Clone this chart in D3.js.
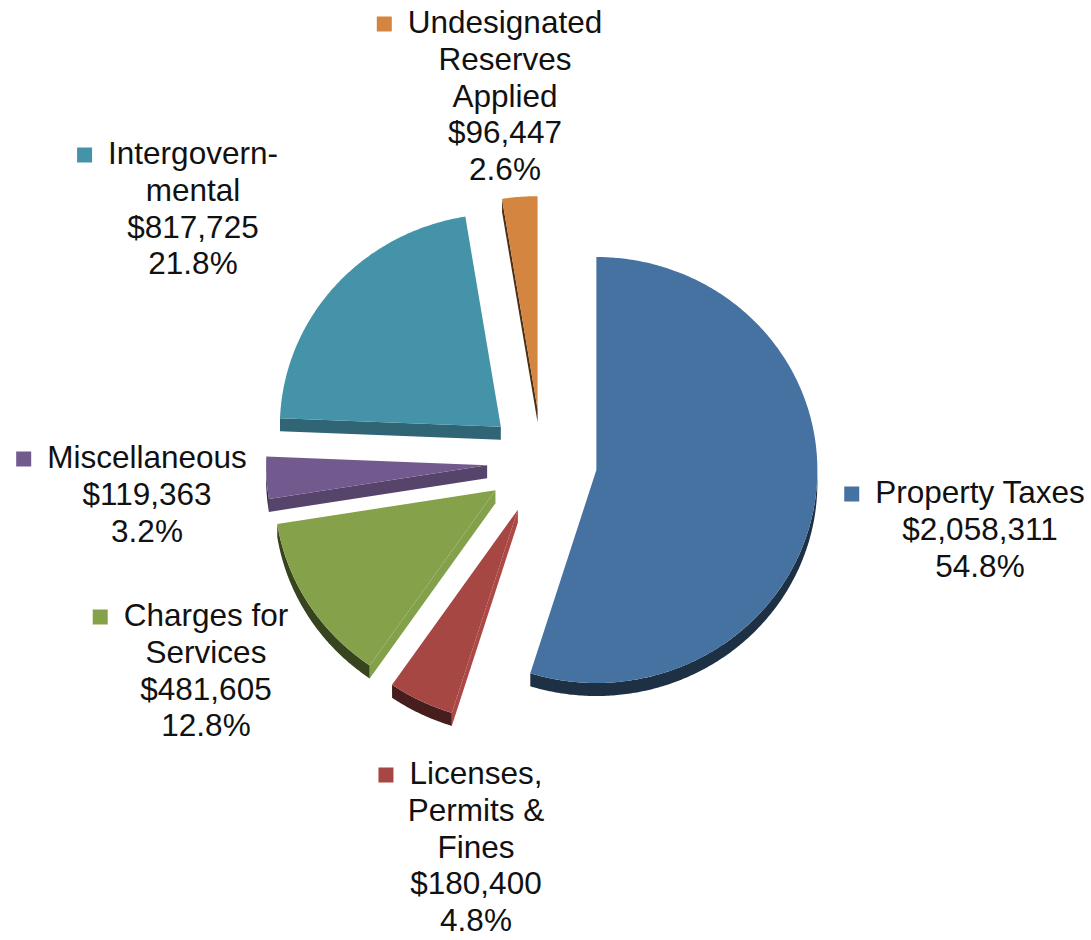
<!DOCTYPE html>
<html>
<head>
<meta charset="utf-8">
<script src="https://cdn.jsdelivr.net/npm/d3@7"></script>
<style>
  html, body { margin: 0; padding: 0; background: #ffffff; }
  svg { display: block; }
  text { font-family: "Liberation Sans", Arial, sans-serif; fill: #111111; }
</style>
</head>
<body>
<svg id="chart" width="1091" height="940"></svg>
<script>
// ---- data ----
const categories = ["Property Taxes", "Licenses, Permits & Fines", "Charges for Services",
                    "Miscellaneous", "Intergovernmental", "Undesignated Reserves Applied"];
const values = [2058311, 180400, 481605, 119363, 817725, 96447];
const labelLines = [
  ["Property Taxes"],
  ["Licenses,", "Permits &", "Fines"],
  ["Charges for", "Services"],
  ["Miscellaneous"],
  ["Intergovern-", "mental"],
  ["Undesignated", "Reserves", "Applied"]
];
const colors = ["#4672A2", "#A64744", "#85A24B", "#735A8E", "#4593A9", "#D48540"];

// ---- layout ----
const W = 1091, H = 940;
const cx = 542, cy = 462;       // pie centre
const rx = 221, ry = 213;       // projected radii
const explode = 55;             // explosion distance
const depth = 13;               // slice thickness
const fontSize = 31.5;
const lineH = 36.6;
// label anchors: text centre x, centre y of first line
const labelAnchor = [[980, 492], [476, 773], [206, 615], [147, 457], [193, 153], [505, 22]];

const svg = d3.select("#chart");

const pie = d3.pie().sort(null).value(d => d)(values);
const total = d3.sum(values);
const fmtMoney = d3.format("$,");
const fmtPct = d3.format(".1%");

function pt(ox, oy, ang, k = 1) {
  return [ox + Math.sin(ang) * rx * k, oy - Math.cos(ang) * ry * k];
}
function arcPts(ox, oy, a0, a1, dy = 0) {
  const n = Math.max(2, Math.ceil((a1 - a0) / 0.01));
  const pts = [];
  for (let i = 0; i <= n; i++) {
    const a = a0 + (a1 - a0) * i / n;
    const p = pt(ox, oy, a);
    pts.push([p[0], p[1] + dy]);
  }
  return pts;
}
function shade(col, f) {
  const c = d3.rgb(col);
  return d3.rgb(Math.min(255, c.r * f), Math.min(255, c.g * f), Math.min(255, c.b * f)).formatHex();
}
const line = d3.line();

const slices = pie.map((p, i) => {
  const mid = (p.startAngle + p.endAngle) / 2;
  const ox = cx + Math.sin(mid) * explode;
  const oy = cy - Math.cos(mid) * explode * (ry / rx);
  return { p, i, ox, oy };
}).sort((a, b) => a.oy - b.oy);

const gPie = svg.append("g");
slices.forEach(s => {
  const { p, i, ox, oy } = s;
  const col = colors[i];
  const g = gPie.append("g");
  // radial side faces
  [[p.startAngle, p.startAngle - Math.PI / 2], [p.endAngle, p.endAngle + Math.PI / 2]].forEach(([ang, nrm]) => {
    if (Math.cos(nrm) < -0.001) {
      const o = pt(ox, oy, ang);
      const f = 0.7 + 0.35 * Math.sin(nrm);
      g.append("path")
        .attr("d", line([[ox, oy], o, [o[0], o[1] + depth], [ox, oy + depth]]) + "Z")
        .attr("fill", shade(col, f));
    }
  });
  // outer curved side (front half only)
  const a0 = Math.max(p.startAngle, Math.PI / 2);
  const a1 = Math.min(p.endAngle, 3 * Math.PI / 2);
  if (a1 > a0) {
    const top = arcPts(ox, oy, a0, a1, 0);
    const bot = arcPts(ox, oy, a0, a1, depth).reverse();
    g.append("path")
      .attr("d", line(top.concat(bot)) + "Z")
      .attr("fill", shade(col, 0.42));
  }
  // top face
  const pts = [[ox, oy]].concat(arcPts(ox, oy, p.startAngle, p.endAngle, 0));
  g.append("path")
    .attr("d", line(pts) + "Z")
    .attr("fill", col);
});

// ---- labels ----
const gLab = svg.append("g");
pie.forEach((p, i) => {
  const [tx, ty] = labelAnchor[i];
  const lines = labelLines[i].concat([fmtMoney(values[i]), fmtPct(values[i] / total)]);
  const t = gLab.append("g");
  let firstW = 0;
  lines.forEach((ln, j) => {
    const el = t.append("text")
      .attr("x", tx)
      .attr("y", ty + j * lineH)
      .attr("dy", "0.36em")
      .attr("text-anchor", "middle")
      .attr("font-size", fontSize)
      .text(ln);
    if (j === 0) firstW = el.node().getComputedTextLength();
  });
  const ks = 15;
  t.append("rect")
    .attr("x", tx - firstW / 2 - 16 - ks)
    .attr("y", ty - ks / 2 + 2)
    .attr("width", ks)
    .attr("height", ks)
    .attr("fill", colors[i]);
});
</script>
</body>
</html>
